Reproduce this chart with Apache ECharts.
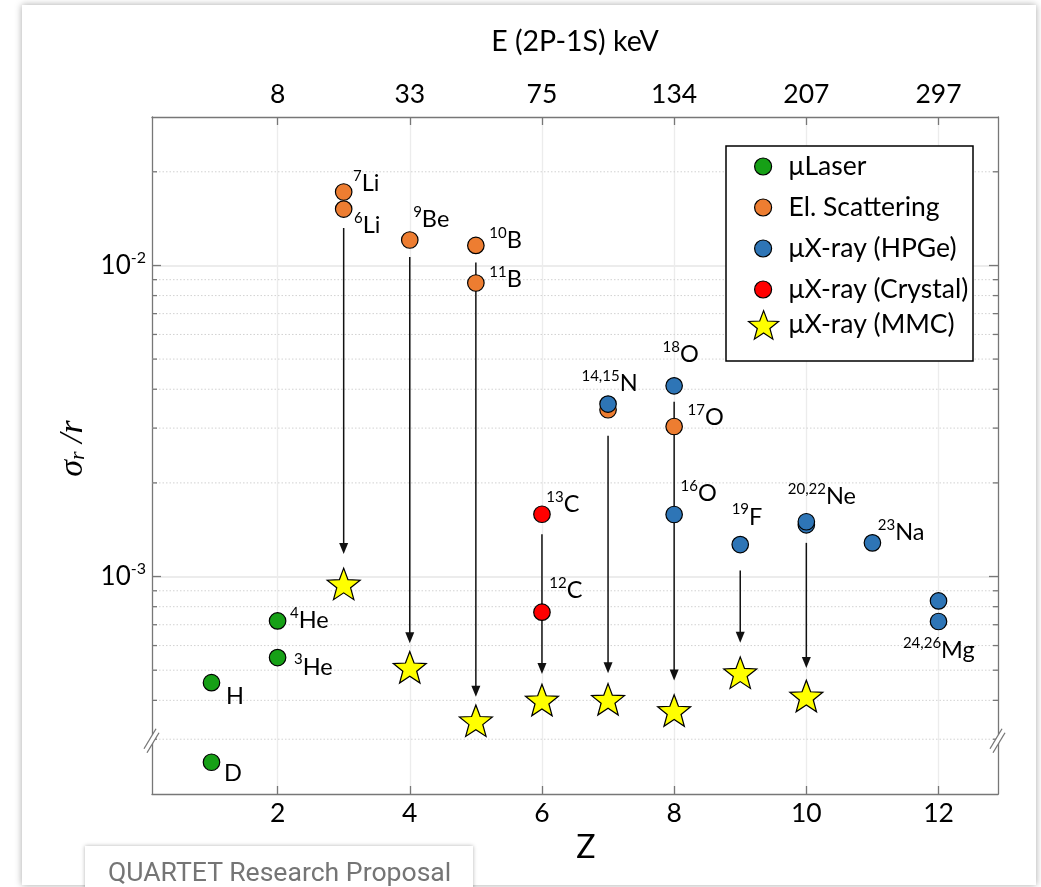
<!DOCTYPE html>
<html>
<head>
<meta charset="utf-8">
<title>Charge radius precision vs Z</title>
<script src="https://cdn.jsdelivr.net/npm/echarts@6/dist/echarts.min.js"></script>
<style>
  html, body { margin: 0; padding: 0; width: 1041px; height: 887px; overflow: hidden; background: #ffffff; }
  #card { position: absolute; left: 22px; top: 5px; width: 1014px; height: 880px; background: #fff;
          box-shadow: 0 0 7px rgba(0,0,0,0.35); }
  #chart { position: absolute; left: 0; top: 0; width: 1041px; height: 887px; }
  #caption { position: absolute; left: 85px; top: 846px; width: 388px; height: 60px; background: #fff;
             box-shadow: 0 0 4px rgba(0,0,0,0.3); box-sizing: border-box; padding: 13px 0 0 23px;
             font-family: Roboto, sans-serif; font-size: 26.6px; line-height: 26px; color: #757575; white-space: nowrap; }
</style>
</head>
<body>
<div id="card"></div>
<div id="chart"></div>
<div id="caption">QUARTET Research Proposal</div>
<script>
// ---- axis ranges and ticks ----
const xMin = 0.1, xMax = 12.9;
const yMin = 2e-4, yMax = 3e-2;
const zTicks = [2, 4, 6, 8, 10, 12];
const energyLabels = ['8', '33', '75', '134', '207', '297'];   // E(2P-1S) in keV at each Z tick
const decadeTicks = [1e-3, 1e-2];
const minorTicks = [3e-4, 4e-4, 5e-4, 6e-4, 7e-4, 8e-4, 9e-4,
                    2e-3, 3e-3, 4e-3, 5e-3, 6e-3, 7e-3, 8e-3, 9e-3, 2e-2];
const axisBreakAt = 3e-4;

// ---- muonic laser spectroscopy ----
const laserZ     = [1, 1, 2, 2];
const laserSigma = [4.56e-4, 2.53e-4, 7.20e-4, 5.49e-4];
const laserMass  = ['', '', '4', '3'];
const laserElem  = ['H', 'D', 'He', 'He'];

// ---- elastic electron scattering ----
const scatZ     = [3, 3, 4, 5, 5, 7, 8];
const scatSigma = [0.01722, 0.01518, 0.01207, 0.0116, 0.00878, 0.003436, 0.003036];
const scatMass  = ['7', '6', '9', '10', '11', '', '17'];
const scatElem  = ['Li', 'Li', 'Be', 'B', 'B', '', 'O'];

// ---- muonic X-ray, HPGe detectors ----
const hpgeZ     = [7, 8, 8, 9, 10, 10, 11, 12, 12];
const hpgeSigma = [0.003584, 0.004103, 0.001583, 0.001267, 0.001466, 0.0015, 0.001283, 0.000835, 0.000717];
const hpgeMass  = ['14,15', '18', '16', '19', '', '20,22', '23', '', '24,26'];
const hpgeElem  = ['N', 'O', 'O', 'F', '', 'Ne', 'Na', '', 'Mg'];

// ---- muonic X-ray, crystal spectrometer ----
const crystalZ     = [6, 6];
const crystalSigma = [0.001586, 0.000768];
const crystalMass  = ['13', '12'];
const crystalElem  = ['C', 'C'];

// ---- muonic X-ray, MMC (projected) ----
const mmcZ     = [3, 4, 5, 6, 7, 8, 9, 10];
const mmcSigma = [0.000947, 0.000511, 0.000344, 0.000401, 0.000403, 0.000371, 0.000491, 0.000413];

// ---- improvement arrows: from current best value down to the MMC projection ----
const arrowZ    = [3, 4, 5, 6, 7, 8, 9, 10];
const arrowFrom = [0.01518, 0.01207, 0.0116, 0.001586, 0.003436, 0.004103, 0.001267, 0.001466];
const arrowTo   = mmcSigma;

// ---- styling ----
const FONT = 'Lato, "Open Sans", sans-serif';
const AXIS_GRAY = '#777777';
const DOT = 16.5;
const arrowGapStart = [19, 17, 17, 20, 26, 16, 26, 18];
const arrowGapEnd   = [30, 24, 24, 26, 26, 30, 30, 28];
// label anchor (left edge, vertical middle) relative to the marker centre, px
const labelOffset = {
  'H': [15, 14], 'D': [13, 11.5], '4He': [13, 0], '3He': [17, 10],
  '7Li': [10, -8], '6Li': [11, 17], '9Be': [4, -20], '10B': [14, -4], '11B': [14, -3],
  '17O': [14, -8], '14,15N': [-26, -20], '18O': [-11, -31], '16O': [7, -20], '19F': [-8, -27],
  '20,22Ne': [-18, -25], '23Na': [6, -10], '24,26Mg': [-35, 30], '13C': [5, -9], '12C': [8, -21]
};
const labelRich = {
  sup: { fontFamily: FONT, fontSize: 15, lineHeight: 15, color: '#000', verticalAlign: 'top' },
  el:  { fontFamily: FONT, fontSize: 23.5, lineHeight: 30, color: '#000' }
};

function starPath(ro, ri) {
  let d = '';
  for (let k = 0; k < 10; k++) {
    const r = k % 2 ? ri : ro;
    const a = -Math.PI / 2 + k * Math.PI / 5;
    d += (k ? 'L' : 'M') + (50 + r * Math.cos(a)).toFixed(2) + ' ' + (50 + r * Math.sin(a)).toFixed(2);
  }
  return 'path://' + d + 'Z';
}
const STAR = starPath(50, 21);

function points(zs, vals, mass, elem) {
  return zs.map((z, i) => {
    const item = { value: [z, vals[i]] };
    if (elem && elem[i]) {
      const o = labelOffset[mass[i] + elem[i]];
      item.label = {
        show: true,
        position: [DOT / 2 + o[0], DOT / 2 + o[1]],
        align: 'left', verticalAlign: 'middle',
        formatter: (mass[i] ? '{sup|' + mass[i] + '}' : '') + '{el|' + elem[i] + '}',
        rich: labelRich
      };
    }
    return item;
  });
}

function dotSeries(name, color, zs, vals, mass, elem) {
  return {
    name, type: 'scatter', z: 3, symbol: 'circle', symbolSize: DOT,
    itemStyle: { color, borderColor: '#000', borderWidth: 1.2, opacity: 1 },
    emphasis: { disabled: true },
    data: points(zs, vals, mass, elem)
  };
}

const chart = echarts.init(document.getElementById('chart'), null, { renderer: 'canvas' });

const tickLabel = { fontFamily: FONT, fontSize: 26.5, color: '#000' };

chart.setOption({
  animation: false,
  backgroundColor: 'transparent',
  grid: { left: 152, top: 117, width: 846, height: 677, containLabel: false },
  xAxis: [
    {
      type: 'value', position: 'bottom', min: xMin, max: xMax,
      name: 'Z', nameLocation: 'middle', nameGap: 37,
      nameTextStyle: { fontFamily: FONT, fontSize: 32, color: '#000', padding: [0, 0, 0, 22] },
      axisLine: { show: true, lineStyle: { color: AXIS_GRAY, width: 1.3 } },
      axisTick: { show: true, inside: true, length: 8, customValues: zTicks, lineStyle: { color: AXIS_GRAY, width: 1.3 } },
      axisLabel: Object.assign({ customValues: zTicks, margin: 6 }, tickLabel),
      splitLine: { show: true, lineStyle: { color: '#ececec', width: 1.3 } }
    },
    {
      type: 'value', position: 'top', min: xMin, max: xMax,
      name: 'E (2P-1S) keV', nameLocation: 'middle', nameGap: 61,
      nameTextStyle: { fontFamily: FONT, fontSize: 28.5, color: '#000' },
      axisLine: { show: true, lineStyle: { color: AXIS_GRAY, width: 1.3 } },
      axisTick: { show: true, inside: true, length: 8, customValues: zTicks, lineStyle: { color: AXIS_GRAY, width: 1.3 } },
      axisLabel: Object.assign({ customValues: zTicks, margin: 9,
        formatter: v => energyLabels[zTicks.indexOf(v)] }, tickLabel),
      splitLine: { show: false }
    }
  ],
  yAxis: [
    {
      type: 'log', logBase: 10, position: 'left', min: yMin, max: yMax,
      name: '{i|σ}{sub|r}{i| /}{i|r}', nameLocation: 'middle', nameGap: 62, nameRotate: 90,
      nameTextStyle: {
        padding: [0, 0, 0, 14],
        rich: {
          i:   { fontFamily: '"Liberation Serif", serif', fontStyle: 'italic', fontSize: 34, lineHeight: 34, color: '#000' },
          sub: { fontFamily: '"Liberation Serif", serif', fontStyle: 'italic', fontSize: 22, lineHeight: 34, color: '#000', verticalAlign: 'bottom' }
        }
      },
      axisLine: { show: true, lineStyle: { color: AXIS_GRAY, width: 1.3 } },
      axisTick: { show: true, inside: true, length: 9, customValues: decadeTicks, lineStyle: { color: AXIS_GRAY, width: 1.3 } },
      axisLabel: {
        customValues: decadeTicks, margin: 6,
        formatter: v => '{b|10}{s|' + Math.round(Math.log10(v)) + '}',
        rich: {
          b: { fontFamily: FONT, fontSize: 26, lineHeight: 32, color: '#000' },
          s: { fontFamily: FONT, fontSize: 16, lineHeight: 17, color: '#000', verticalAlign: 'top' }
        }
      },
      splitLine: { show: true, lineStyle: { color: '#e6e6e6', width: 1.5 } },
      minorTick: { show: false }, minorSplitLine: { show: false }
    },
    {
      type: 'log', logBase: 10, position: 'right', min: yMin, max: yMax,
      axisLine: { show: true, lineStyle: { color: AXIS_GRAY, width: 1.3 } },
      axisTick: { show: true, inside: true, length: 9, customValues: decadeTicks, lineStyle: { color: AXIS_GRAY, width: 1.3 } },
      axisLabel: { show: false },
      splitLine: { show: false }
    }
  ],
  legend: [
    {
      data: ['μLaser', 'El. Scattering', 'μX-ray (HPGe)', 'μX-ray (Crystal)'],
      orient: 'vertical', left: 754, top: 153, padding: 0, z: 11,
      itemWidth: 17, itemHeight: 17, itemGap: 14, selectedMode: false,
      itemStyle: { borderColor: '#000', borderWidth: 1.2 },
      textStyle: { fontFamily: FONT, fontSize: 26.5, lineHeight: 26, color: '#000', padding: [0, 0, 0, 12] }
    },
    {
      data: ['μX-ray (MMC)'],
      orient: 'vertical', left: 748, top: 310, padding: 0, z: 11,
      itemWidth: 30, itemHeight: 30, selectedMode: false,
      itemStyle: { borderColor: '#000', borderWidth: 1.2 },
      textStyle: { fontFamily: FONT, fontSize: 26.5, lineHeight: 26, color: '#000', padding: [0, 0, 0, 5] }
    }
  ],
  graphic: [
    { type: 'rect', x: 726, y: 146, z: 10, shape: { x: 0, y: 0, width: 247, height: 215 },
      style: { fill: '#fff', stroke: '#000', lineWidth: 1.5 }, silent: true }
  ],
  series: [
    // dotted minor grid lines with short minor ticks on both y axes
    {
      type: 'custom', name: 'minor grid', z: 1, silent: true,
      data: minorTicks.map(v => [xMin, v]),
      renderItem: (params, api) => {
        const v = api.value(1);
        const p0 = api.coord([xMin, v]);
        const p1 = api.coord([xMax, v]);
        return {
          type: 'group', children: [
            { type: 'line', shape: { x1: p0[0], y1: p0[1], x2: p1[0], y2: p1[1] },
              style: { stroke: '#d2d2d2', lineWidth: 1, lineDash: [1.5, 2] } },
            { type: 'line', shape: { x1: p0[0], y1: p0[1], x2: p0[0] + 5, y2: p0[1] },
              style: { stroke: AXIS_GRAY, lineWidth: 1.3 } },
            { type: 'line', shape: { x1: p1[0] - 5, y1: p1[1], x2: p1[0], y2: p1[1] },
              style: { stroke: AXIS_GRAY, lineWidth: 1.3 } }
          ]
        };
      }
    },
    // axis break marks on both y axes
    {
      type: 'custom', name: 'axis break', z: 6, silent: true,
      data: [[xMin, axisBreakAt], [xMax, axisBreakAt]],
      renderItem: (params, api) => {
        const c = api.coord([api.value(0), api.value(1)]);
        const x = c[0], y = c[1] + 1.5;
        return {
          type: 'group', children: [
            { type: 'polygon', shape: { points: [[x - 8, y + 8], [x + 4, y - 12], [x + 7, y - 8], [x - 5, y + 12]] },
              style: { fill: '#fff' } },
            { type: 'line', shape: { x1: x - 8, y1: y + 8, x2: x + 4, y2: y - 12 }, style: { stroke: AXIS_GRAY, lineWidth: 1.3 } },
            { type: 'line', shape: { x1: x - 5, y1: y + 12, x2: x + 7, y2: y - 8 }, style: { stroke: AXIS_GRAY, lineWidth: 1.3 } }
          ]
        };
      }
    },
    // improvement arrows
    {
      type: 'custom', name: 'arrows', z: 2, silent: true,
      data: arrowZ.map((z, i) => [z, arrowFrom[i], arrowTo[i]]),
      encode: { x: 0, y: [1, 2] },
      renderItem: (params, api) => {
        const i = params.dataIndex;
        const a = api.coord([api.value(0), api.value(1)]);
        const b = api.coord([api.value(0), api.value(2)]);
        const x = a[0];
        const y0 = a[1] + arrowGapStart[i];
        const tip = b[1] - arrowGapEnd[i];
        return {
          type: 'group', children: [
            { type: 'line', shape: { x1: x, y1: y0, x2: x, y2: tip - 8 }, style: { stroke: '#111', lineWidth: 1.5 } },
            { type: 'polygon', shape: { points: [[x - 4.5, tip - 11], [x + 4.5, tip - 11], [x, tip]] }, style: { fill: '#111' } }
          ]
        };
      }
    },
    dotSeries('μLaser', '#16a016', laserZ, laserSigma, laserMass, laserElem),
    dotSeries('El. Scattering', '#ed7d31', scatZ, scatSigma, scatMass, scatElem),
    dotSeries('μX-ray (HPGe)', '#2e75b6', hpgeZ, hpgeSigma, hpgeMass, hpgeElem),
    dotSeries('μX-ray (Crystal)', '#ff0000', crystalZ, crystalSigma, crystalMass, crystalElem),
    {
      name: 'μX-ray (MMC)', type: 'scatter', z: 3, symbol: STAR, symbolSize: [33, 31.5],
      itemStyle: { color: '#ffff00', borderColor: '#000', borderWidth: 1.2, opacity: 1 },
      emphasis: { disabled: true },
      data: points(mmcZ, mmcSigma, null, null)
    }
  ]
});
</script>
</body>
</html>
